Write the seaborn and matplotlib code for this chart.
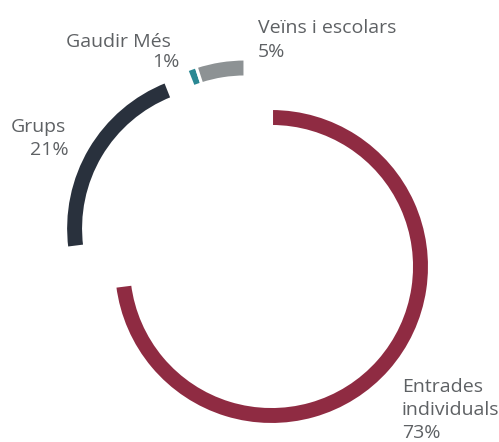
import matplotlib
matplotlib.use("Agg")
import matplotlib.pyplot as plt
import seaborn as sns

# ---- data ----
categories = ["Entrades individuals", "Grups", "Gaudir Més", "Veïns i escolars"]
values = [73, 21, 1, 5]
name_lines = [["Entrades", "individuals"], ["Grups"], ["Gaudir Més"], ["Veïns i escolars"]]
colors = ["#8F2B42", "#29313D", "#2A8893", "#8D9294"]

# ---- layout (pixels, y measured from top) ----
W, H = 499, 442
base_center = (245, 217)
wedge_centers = [(271.5, 266.5), (223.6, 228.4), (245, 217), (245, 217)]
# (x, first baseline, ha, line step, pct x)
label_pos = [
    (402, 392, "left", 23, 402),
    (66, 132, "right", 23, 69),
    (171, 47, "right", 20, 180),
    (258, 33, "left", 24, 258),
]

sns.set_theme(style="white")
plt.rcParams["font.family"] = ["Open Sans", "DejaVu Sans"]

fig = plt.figure(figsize=(W / 100, H / 100), dpi=100)
ax = fig.add_axes([0, 0, 1, 1])

wedges, _ = ax.pie(
    values,
    colors=colors,
    startangle=90,
    counterclock=False,
    radius=158,
    center=(base_center[0], H - base_center[1]),
    wedgeprops=dict(width=18, edgecolor="white", linewidth=2.2),
)
for w, (cx, cy) in zip(wedges, wedge_centers):
    w.set_center((cx, H - cy))

ax.set_xlim(0, W)
ax.set_ylim(0, H)
ax.set_aspect("equal")
ax.axis("off")

txt_color = "#5E6164"
fs = 14
for lines, v, (x, y0, ha, step, px) in zip(name_lines, values, label_pos):
    for i, line in enumerate(lines):
        ax.text(x, H - (y0 + i * step), line, ha=ha, va="baseline",
                fontsize=fs, color=txt_color)
    ax.text(px, H - (y0 + len(lines) * step), f"{v}%", ha=ha, va="baseline",
            fontsize=fs, color=txt_color)

fig.savefig("out.png", dpi=100)
